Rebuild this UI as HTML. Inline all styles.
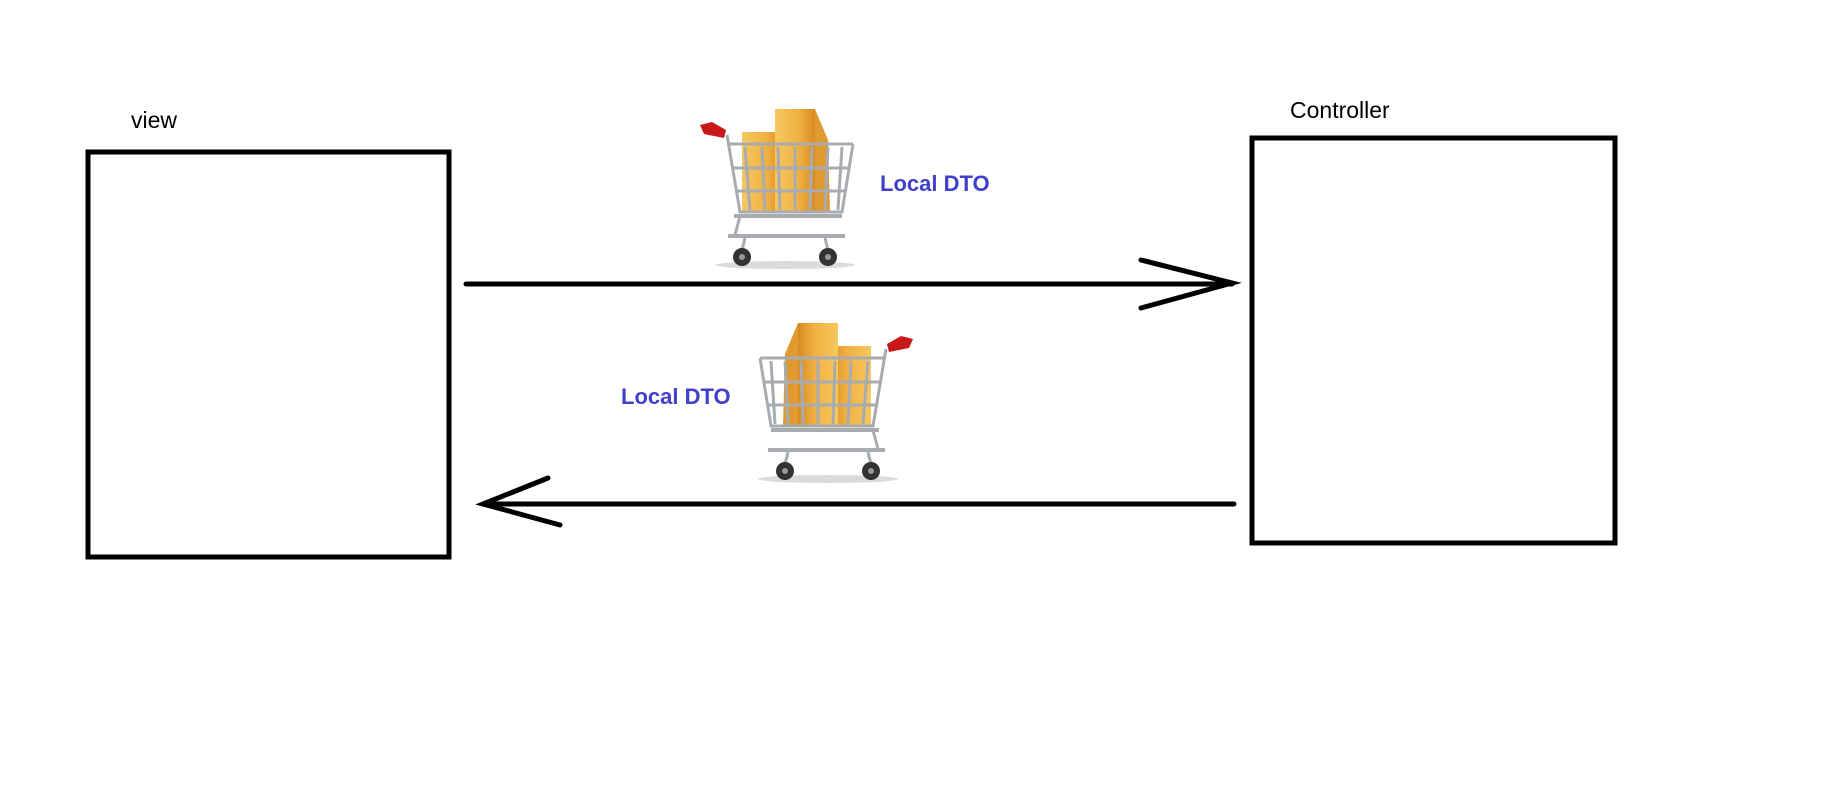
<!DOCTYPE html>
<html><head><meta charset="utf-8"><style>
html,body{margin:0;padding:0;background:#fff;}
body{width:1825px;height:785px;overflow:hidden;position:relative;font-family:"Liberation Sans",sans-serif;}
</style></head><body>
<svg width="1825" height="785" viewBox="0 0 1825 785" xmlns="http://www.w3.org/2000/svg">
<defs>
<linearGradient id="bag" x1="0" x2="1"><stop offset="0" stop-color="#f6c860"/><stop offset="0.6" stop-color="#f0b040"/><stop offset="1" stop-color="#d88a20"/></linearGradient>
<g id="cart">
  <ellipse cx="95" cy="165" rx="70" ry="4" fill="#d8dcdf"/>
  <rect x="52" y="32" width="42" height="80" fill="url(#bag)"/>
  <rect x="85" y="9" width="40" height="103" fill="url(#bag)"/>
  <polygon points="125,9 138,40 140,112 125,112" fill="#e09a30"/>
  <g stroke="#a8acb0" stroke-width="3" fill="none">
    <polyline points="37,35 50,112 152,112 163,44"/>
    <line x1="37" y1="44" x2="163" y2="44"/>
    <line x1="42" y1="68" x2="158" y2="68"/>
    <line x1="45" y1="91" x2="155" y2="91"/>
    <line x1="55" y1="47" x2="60" y2="110"/>
    <line x1="72" y1="47" x2="75" y2="110"/>
    <line x1="88" y1="47" x2="90" y2="110"/>
    <line x1="105" y1="47" x2="105" y2="110"/>
    <line x1="122" y1="47" x2="120" y2="110"/>
    <line x1="138" y1="47" x2="135" y2="110"/>
    <line x1="152" y1="47" x2="148" y2="110"/>
    <line x1="44" y1="116" x2="152" y2="116" stroke-width="4"/>
    <line x1="50" y1="116" x2="45" y2="135"/>
    <line x1="38" y1="136" x2="155" y2="136" stroke-width="4"/>
    <line x1="55" y1="138" x2="52" y2="150"/>
    <line x1="135" y1="138" x2="138" y2="150"/>
  </g>
  <polygon points="10,25 22,22 36,30 34,38 14,34" fill="#c81818"/>
  <circle cx="52" cy="157" r="9" fill="#333"/><circle cx="52" cy="157" r="3" fill="#999"/>
  <circle cx="138" cy="157" r="9" fill="#333"/><circle cx="138" cy="157" r="3" fill="#999"/>
</g>
</defs>
<rect x="88" y="152" width="361" height="405" fill="none" stroke="#000" stroke-width="5"/>
<rect x="1252" y="138" width="363" height="405" fill="none" stroke="#000" stroke-width="5"/>
<text x="131" y="128" font-size="23" fill="#000">view</text>
<text x="1290" y="118" font-size="23" fill="#000">Controller</text>
<g stroke="#000" stroke-width="5" stroke-linecap="round" fill="none">
  <line x1="466" y1="284" x2="1232" y2="284"/>
  <polyline points="1141,260 1232,283 1141,308"/>
  <line x1="485" y1="504" x2="1234" y2="504"/>
  <polyline points="548,478 483,504 560,525"/>
</g>
<use href="#cart" transform="translate(690,100)"/>
<use href="#cart" transform="translate(923,314) scale(-1,1)"/>
<text x="880" y="191" font-size="22" font-weight="bold" fill="#4040c8">Local DTO</text>
<text x="621" y="404" font-size="22" font-weight="bold" fill="#4040c8">Local DTO</text>
</svg>
</body></html>
